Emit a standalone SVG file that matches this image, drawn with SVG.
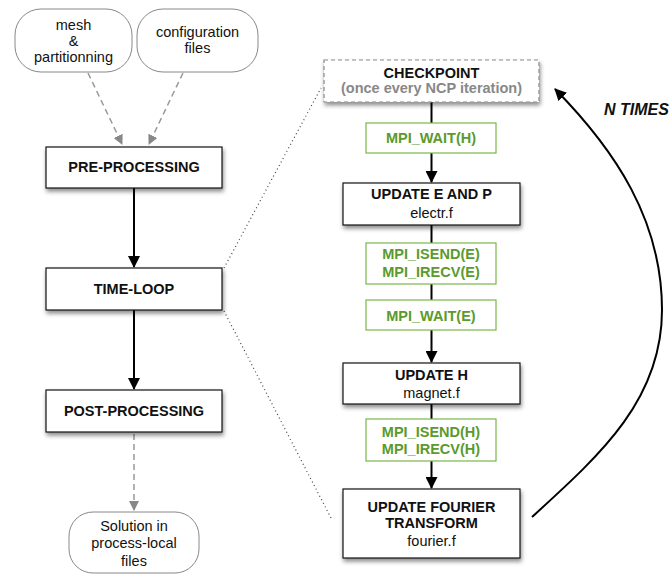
<svg xmlns="http://www.w3.org/2000/svg" width="671" height="575" viewBox="0 0 671 575">
<defs>
<filter id="sh" x="-10%" y="-20%" width="125%" height="150%">
<feDropShadow dx="1" dy="3" stdDeviation="2" flood-color="#000" flood-opacity="0.45"/>
</filter>
<marker id="ab" markerWidth="12" markerHeight="12" refX="11" refY="6" orient="auto" markerUnits="userSpaceOnUse">
<path d="M0,0 L12,6 L0,12 Z" fill="#000"/>
</marker>
<marker id="ag" markerWidth="10" markerHeight="10" refX="9" refY="5" orient="auto" markerUnits="userSpaceOnUse">
<path d="M0,0 L10,5 L0,10 Z" fill="#888"/>
</marker>
</defs>
<style>
text{font-family:"Liberation Sans",Arial,sans-serif;font-size:14.5px;text-anchor:middle;fill:#111}
.b{font-weight:bold}
.g{font-weight:bold;fill:#5b9a2c}
.gr{font-weight:bold;fill:#888}
.box{fill:#fff;stroke:#111;stroke-width:1.2}
.gbox{fill:#fff;stroke:#7ab648;stroke-width:1.2}
.pill{fill:#fff;stroke:#888;stroke-width:1}
.cp{fill:#fff;stroke:#888;stroke-width:1.2;stroke-dasharray:4 3}
.solid{stroke:#000;stroke-width:2;fill:none}
.dash{stroke:#999;stroke-width:1.5;stroke-dasharray:6 4;fill:none}
.dot{stroke:#444;stroke-width:1.2;stroke-dasharray:1 3;fill:none}
</style>
<g id="connectors">
<line class="dash" x1="88" y1="73" x2="122" y2="144" marker-end="url(#ag)"/>
<line class="dash" x1="183" y1="73" x2="149" y2="144" marker-end="url(#ag)"/>
<line class="solid" x1="134" y1="188" x2="134" y2="267" marker-end="url(#ab)"/>
<line class="solid" x1="134" y1="310" x2="134" y2="389" marker-end="url(#ab)"/>
<line class="dash" x1="134" y1="434" x2="134" y2="510" marker-end="url(#ag)"/>
<line class="dot" x1="224" y1="268" x2="321" y2="88"/>
<line class="dot" x1="224" y1="311" x2="331" y2="518"/>
<line class="solid" x1="431.5" y1="102" x2="431.5" y2="123"/>
<line class="solid" x1="431.5" y1="153" x2="431.5" y2="182" marker-end="url(#ab)"/>
<line class="solid" x1="431.5" y1="225" x2="431.5" y2="243"/>
<line class="solid" x1="431.5" y1="284" x2="431.5" y2="300"/>
<line class="solid" x1="431.5" y1="330" x2="431.5" y2="362" marker-end="url(#ab)"/>
<line class="solid" x1="431.5" y1="404" x2="431.5" y2="419"/>
<line class="solid" x1="431.5" y1="461" x2="431.5" y2="488" marker-end="url(#ab)"/>
<path class="solid" d="M532,517 C600,455 662,400 662,310 C662,220 615,150 555,89" marker-end="url(#ab)"/>
<text x="604" y="115" style="font-weight:bold;font-style:italic;text-anchor:start;font-size:16px">N TIMES</text>
</g>
<g id="mesh">
<rect class="pill" x="15" y="9" width="117" height="63" rx="26"/>
<text x="73.5" y="30">mesh</text>
<text x="73.5" y="46">&amp;</text>
<text x="73.5" y="62">partitionning</text>
</g>
<g id="config">
<rect class="pill" x="137" y="9" width="121" height="63" rx="26"/>
<text x="197.5" y="37">configuration</text>
<text x="197.5" y="53">files</text>
</g>
<g id="preprocessing">
<rect class="box" x="46" y="147" width="176" height="41" filter="url(#sh)"/>
<text class="b" x="134" y="172">PRE-PROCESSING</text>
</g>
<g id="timeloop">
<rect class="box" x="46" y="268" width="176" height="42" filter="url(#sh)"/>
<text class="b" x="134" y="294">TIME-LOOP</text>
</g>
<g id="postprocessing">
<rect class="box" x="46" y="390" width="176" height="42" filter="url(#sh)"/>
<text class="b" x="134" y="416">POST-PROCESSING</text>
</g>
<g id="solution">
<rect class="pill" x="69" y="512" width="130" height="61" rx="24"/>
<text x="134" y="531">Solution in</text>
<text x="134" y="548">process-local</text>
<text x="134" y="566">files</text>
</g>
<g id="checkpoint">
<rect class="cp" x="324" y="60" width="215" height="42" filter="url(#sh)"/>
<text class="b" x="431.5" y="78">CHECKPOINT</text>
<text class="gr" x="431.5" y="93">(once every NCP iteration)</text>
</g>
<g id="waitH">
<rect class="gbox" x="366" y="123" width="130" height="30"/>
<text class="g" x="431" y="143">MPI_WAIT(H)</text>
</g>
<g id="updateE">
<rect class="box" x="343" y="183" width="177" height="42" filter="url(#sh)"/>
<text class="b" x="431.5" y="199">UPDATE E AND P</text>
<text x="431.5" y="218">electr.f</text>
</g>
<g id="isendE">
<rect class="gbox" x="366" y="243" width="130" height="41"/>
<text class="g" x="431" y="259">MPI_ISEND(E)</text>
<text class="g" x="431" y="277">MPI_IRECV(E)</text>
</g>
<g id="waitE">
<rect class="gbox" x="366" y="300" width="130" height="30"/>
<text class="g" x="431" y="321">MPI_WAIT(E)</text>
</g>
<g id="updateH">
<rect class="box" x="343" y="363" width="177" height="41" filter="url(#sh)"/>
<text class="b" x="431.5" y="380">UPDATE H</text>
<text x="431.5" y="398">magnet.f</text>
</g>
<g id="isendH">
<rect class="gbox" x="366" y="419" width="130" height="42"/>
<text class="g" x="431" y="437">MPI_ISEND(H)</text>
<text class="g" x="431" y="454">MPI_IRECV(H)</text>
</g>
<g id="fourier">
<rect class="box" x="343" y="489" width="177" height="69" filter="url(#sh)"/>
<text class="b" x="431.5" y="512">UPDATE FOURIER</text>
<text class="b" x="431.5" y="528">TRANSFORM</text>
<text x="431.5" y="546">fourier.f</text>
</g>
</svg>
